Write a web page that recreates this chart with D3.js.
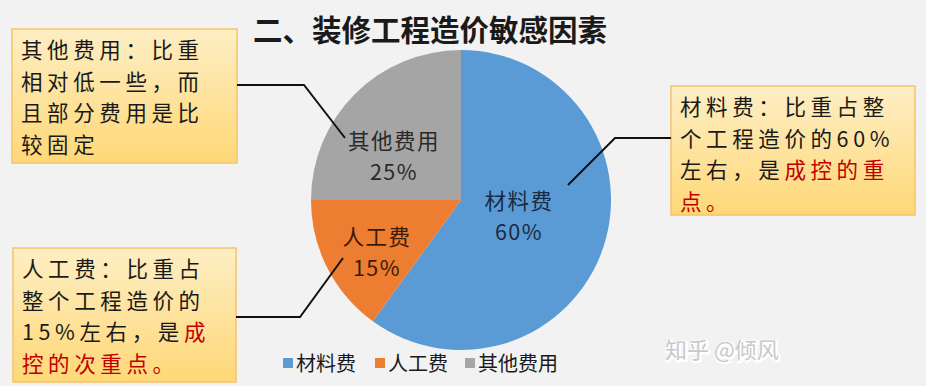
<!DOCTYPE html>
<html>
<head>
<meta charset="utf-8">
<script src="https://cdn.jsdelivr.net/npm/d3@7"></script>
<style>
  body { margin: 0; background: #f2f2f2; }
  svg { display: block; font-family: "Noto Sans CJK SC", "Microsoft YaHei", sans-serif; }
</style>
</head>
<body>
<svg id="chart" width="926" height="386"></svg>
<script>
// data
const categories = ["材料费", "人工费", "其他费用"];
const values = [60, 15, 25];
const colors = ["#5b9bd5", "#ed7d31", "#a5a5a5"];
const titleText = "二、装修工程造价敏感因素";

// callout notes, one per slice; [text, isRed] segments per line
const notes = [
  [[["材料费：比重占整", 0]], [["个工程造价的60%", 0]], [["左右，是", 0], ["成控的重", 1]], [["点。", 1]]],
  [[["人工费：比重占", 0]], [["整个工程造价的", 0]], [["15%左右，是", 0], ["成", 1]], [["控的次重点。", 1]]],
  [[["其他费用：比重", 0]], [["相对低一些，而", 0]], [["且部分费用是比", 0]], [["较固定", 0]]]
];

const svg = d3.select("#chart");
const W = 926, H = 386;

svg.append("rect").attr("width", W).attr("height", H).attr("fill", "#f2f2f2");

// gradient for note boxes
const defs = svg.append("defs");
const grad = defs.append("linearGradient").attr("id", "noteFill")
  .attr("x1", 0).attr("y1", 0).attr("x2", 0).attr("y2", 1);
grad.append("stop").attr("offset", "0%").attr("stop-color", "#fdeec4");
grad.append("stop").attr("offset", "100%").attr("stop-color", "#ffd877");

// title
svg.append("text")
  .attr("x", 430).attr("y", 41)
  .attr("text-anchor", "middle")
  .attr("font-size", 29.5).attr("font-weight", "bold")
  .attr("fill", "#1a1a1a")
  .text(titleText);

// pie
const cx = 461, cy = 200, r = 150;
const pie = d3.pie().sort(null).value(d => d)(values);
const arc = d3.arc().innerRadius(0).outerRadius(r);

const g = svg.append("g").attr("transform", "translate(" + cx + "," + cy + ")");
g.selectAll("path")
  .data(pie)
  .enter()
  .append("path")
  .attr("d", arc)
  .attr("fill", (d, i) => colors[i]);

// slice labels
const labelPos = [[58, 9], [-84, 45], [-67, -51]];
const labelColors = ["#1b2a44", "#3a1a08", "#2a2a2a"];
pie.forEach(function(d, i) {
  const t = g.append("text")
    .attr("x", labelPos[i][0]).attr("y", labelPos[i][1])
    .attr("text-anchor", "middle")
    .attr("font-size", 21.5)
    .attr("letter-spacing", 1.5)
    .attr("fill", labelColors[i]);
  t.append("tspan").attr("x", labelPos[i][0]).attr("dy", 0).text(categories[i]);
  t.append("tspan").attr("x", labelPos[i][0]).attr("dy", 31).text(values[i] + "%");
});

// note boxes
const boxes = [
  {x: 671, y: 86, w: 244, h: 129},
  {x: 13, y: 248, w: 223, h: 134},
  {x: 12, y: 29, w: 225, h: 134}
];
const red = "#c00000";
boxes.forEach(function(b, i) {
  svg.append("rect")
    .attr("x", b.x).attr("y", b.y).attr("width", b.w).attr("height", b.h)
    .attr("fill", "url(#noteFill)")
    .attr("stroke", "#f6c468").attr("stroke-width", 1.5);
  notes[i].forEach(function(line, j) {
    const t = svg.append("text")
      .attr("x", b.x + 9).attr("y", b.y + 29 + j * 31.7)
      .attr("font-size", 21.5)
      .attr("letter-spacing", 4.6)
      .attr("fill", "#1a1a1a");
    line.forEach(function(seg) {
      t.append("tspan").attr("fill", seg[1] ? red : "#1a1a1a").text(seg[0]);
    });
  });
});

// leader lines
const leaders = [
  [[568, 185], [615, 138], [671, 138]],
  [[343, 258], [300, 317], [236, 317]],
  [[345, 138], [304, 85], [237, 85]]
];
const line = d3.line();
leaders.forEach(function(pts) {
  svg.append("path")
    .attr("d", line(pts))
    .attr("fill", "none")
    .attr("stroke", "#111")
    .attr("stroke-width", 2);
});

// legend
const legendX = [283, 375, 465];
const legend = svg.append("g");
categories.forEach(function(c, i) {
  legend.append("rect")
    .attr("x", legendX[i]).attr("y", 358)
    .attr("width", 10).attr("height", 10)
    .attr("fill", colors[i]);
  legend.append("text")
    .attr("x", legendX[i] + 13).attr("y", 371)
    .attr("font-size", 20)
    .attr("fill", "#1a1a1a")
    .text(c);
});

// watermark
svg.append("text")
  .attr("x", 666).attr("y", 359)
  .attr("font-size", 22)
  .attr("fill", "#ffffff")
  .attr("stroke", "#ffffff").attr("stroke-width", 3)
  .text("知乎 @倾风");
svg.append("text")
  .attr("x", 665).attr("y", 358)
  .attr("font-size", 22)
  .attr("fill", "#c8c8c8")
  .text("知乎 @倾风");
</script>
</body>
</html>
